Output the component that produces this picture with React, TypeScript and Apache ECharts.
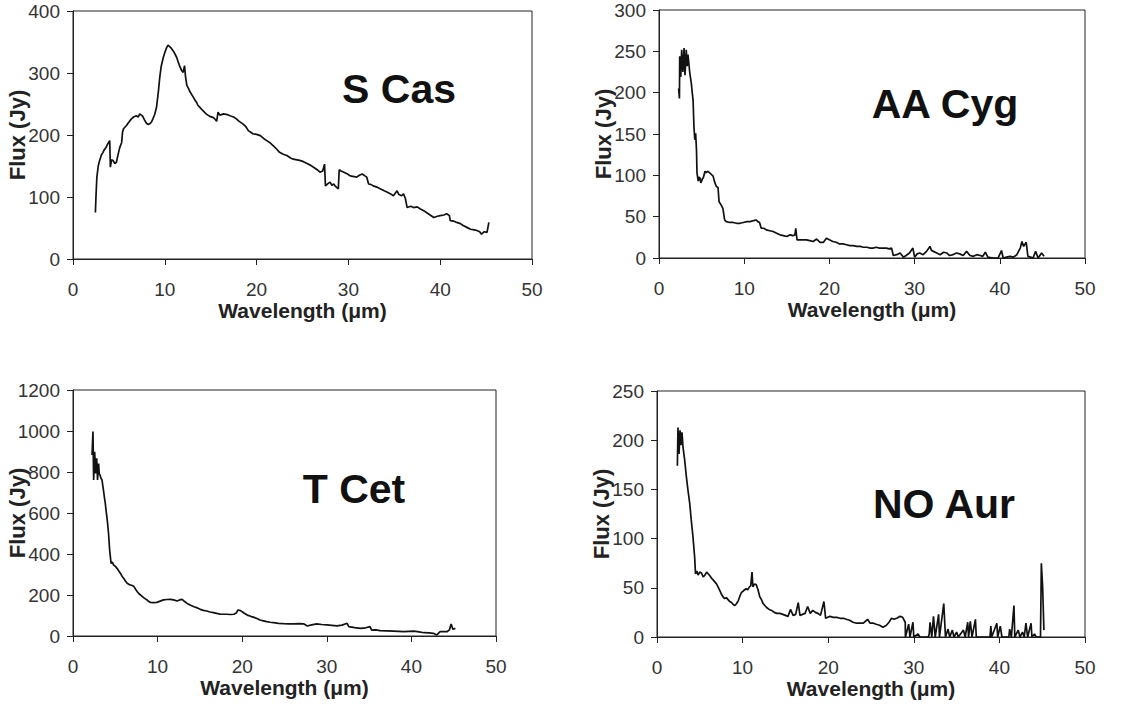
import React, { useEffect, useRef } from "react";
import * as echarts from "echarts";

const starNames = ["S Cas", "AA Cyg", "T Cet", "NO Aur"];
const yMax = [400, 300, 1200, 250];
const yStep = [100, 50, 200, 50];
const xTitle = "Wavelength (μm)";
const yTitle = "Flux (Jy)";

const sCas = [[2.44,75],[2.5,100],[2.6,132],[2.75,150],[2.9,159],[3.1,168],[3.27,172],[3.4,176],[3.6,180],[3.8,186],[4.0,191],[4.07,148],[4.2,160],[4.36,159],[4.55,154],[4.73,156],[4.9,168],[5.1,180],[5.3,188],[5.4,205],[5.5,210],[5.8,215],[6.1,221],[6.36,226],[6.6,229],[6.9,231],[7.1,229],[7.27,234],[7.45,232],[7.6,230],[7.8,224],[8.0,219],[8.2,217],[8.36,218],[8.55,221],[8.7,226],[8.9,233],[9.1,245],[9.3,270],[9.45,293],[9.6,310],[9.8,323],[10.0,333],[10.2,341],[10.35,345],[10.5,343],[10.7,340],[10.9,336],[11.1,331],[11.3,325],[11.45,318],[11.6,312],[11.8,305],[12.0,301],[12.15,312],[12.25,295],[12.4,280],[12.55,276],[12.7,271],[12.9,266],[13.1,261],[13.3,256],[13.45,253],[13.6,248],[13.8,245],[14.1,240],[14.5,234],[14.9,230],[15.3,228],[15.5,225],[15.65,222],[15.8,237],[16.0,232],[16.4,234],[16.8,233],[17.1,231],[17.5,229],[17.8,226],[18.1,222],[18.5,218],[18.8,214],[19.1,207],[19.4,204],[19.6,202],[20.0,201],[20.4,199],[20.8,194],[21.1,191],[21.5,187],[21.8,183],[22.2,177],[22.5,172],[22.9,169],[23.3,167],[23.7,163],[24.0,161],[24.4,160],[24.7,159],[25.1,157],[25.5,154],[25.9,151],[26.2,148],[26.6,144],[26.9,140],[27.2,142],[27.4,153],[27.5,118],[27.8,122],[28.0,124],[28.2,119],[28.4,121],[28.6,117],[28.9,113],[29.0,144],[29.2,142],[29.5,140],[29.9,137],[30.2,134],[30.6,133],[30.9,132],[31.2,135],[31.5,137],[31.8,134],[32.0,132],[32.2,121],[32.5,120],[32.7,118],[33.1,116],[33.5,113],[33.9,110],[34.2,108],[34.6,105],[34.9,102],[35.1,106],[35.3,110],[35.5,104],[35.8,102],[36.0,105],[36.2,98],[36.4,83],[36.8,85],[37.1,83],[37.5,84],[37.8,81],[38.2,78],[38.5,75],[38.9,71],[39.3,67],[39.7,69],[40.0,70],[40.4,71],[40.7,73],[41.0,70],[41.1,62],[41.5,61],[41.8,59],[42.2,57],[42.5,54],[42.9,51],[43.3,48],[43.7,47],[44.0,46],[44.3,44],[44.5,40],[44.8,44],[45.1,43],[45.3,59]];

const aaCyg = [[2.3,205],[2.4,193],[2.43,244],[2.55,219],[2.66,252],[2.8,225],[2.94,254],[3.05,221],[3.2,252],[3.3,232],[3.4,246],[3.5,236],[3.6,225],[3.7,218],[3.8,211],[3.9,200],[4.0,191],[4.1,159],[4.2,143],[4.3,151],[4.4,131],[4.46,103],[4.6,93],[4.7,98],[4.8,97],[4.9,91],[5.0,93],[5.1,96],[5.2,97],[5.3,101],[5.4,105],[5.55,103],[5.7,105],[5.95,103],[6.15,101],[6.35,99],[6.5,93],[6.7,87],[6.93,85],[7.05,68],[7.3,64],[7.5,60],[7.7,46],[7.9,44],[8.3,43],[8.7,43],[9.1,42],[9.5,42],[9.9,43],[10.3,44],[10.7,44],[11.0,45],[11.4,46],[11.6,44],[11.8,43],[12.0,36],[12.3,36],[12.6,34],[13.0,33],[13.4,32],[13.8,30],[14.2,28],[14.6,27],[15.0,26],[15.4,28],[15.7,27],[15.95,28],[16.05,36],[16.2,22],[16.7,22],[17.3,22],[17.7,21],[18.1,20],[18.5,23],[18.9,19],[19.3,19],[19.65,24],[20.0,22],[20.4,20],[20.8,19],[21.2,17],[21.6,17],[22.0,16],[22.4,15],[22.8,15],[23.2,14],[23.6,14],[24.0,13],[24.4,13],[24.8,12],[25.1,12],[25.5,13],[25.9,12],[26.3,12],[26.7,12],[27.0,11],[27.3,12],[27.5,3],[27.9,4],[28.3,6],[28.7,1],[29.0,3],[29.4,6],[29.8,12],[30.0,1],[30.3,5],[30.6,6],[31.0,4],[31.4,8],[31.8,14],[32.0,9],[32.2,8],[32.6,6],[33.0,4],[33.4,7],[33.8,6],[34.1,3],[34.5,4],[34.9,6],[35.3,5],[35.7,3],[36.1,8],[36.5,3],[36.9,2],[37.3,4],[37.7,3],[38.0,2],[38.3,7],[38.6,1],[39.2,0],[39.8,0],[40.2,9],[40.4,0],[40.8,1],[41.2,2],[41.6,1],[42.0,4],[42.4,12],[42.6,20],[42.8,14],[43.1,19],[43.3,2],[43.6,1],[43.9,0],[44.2,8],[44.5,0],[44.9,6],[45.2,2]];

const tCet = [[2.25,883],[2.36,997],[2.44,761],[2.56,899],[2.68,793],[2.8,867],[2.9,761],[3.03,841],[3.1,790],[3.2,785],[3.3,770],[3.43,761],[3.5,740],[3.6,712],[3.7,680],[3.82,647],[3.9,615],[4.0,582],[4.1,545],[4.2,501],[4.33,420],[4.5,354],[4.65,360],[4.8,346],[5.0,340],[5.2,330],[5.4,318],[5.6,306],[5.8,292],[6.0,281],[6.2,268],[6.4,257],[6.6,252],[6.8,249],[7.0,246],[7.2,241],[7.4,228],[7.6,216],[7.8,206],[8.0,200],[8.2,192],[8.35,187],[8.55,181],[8.75,176],[8.95,168],[9.14,164],[9.5,163],[9.93,164],[10.3,170],[10.7,176],[11.1,178],[11.5,179],[11.9,176],[12.3,171],[12.6,176],[12.9,179],[13.2,168],[13.5,159],[13.9,150],[14.3,143],[14.7,137],[15.05,130],[15.4,125],[15.8,122],[16.2,117],[16.6,114],[17.0,110],[17.4,107],[17.8,106],[18.2,106],[18.6,105],[19.0,106],[19.3,112],[19.5,127],[19.8,124],[20.2,112],[20.6,102],[21.0,96],[21.4,91],[21.8,84],[22.1,78],[22.5,74],[22.9,70],[23.3,67],[23.7,65],[24.3,62],[24.9,60],[25.5,59],[26.1,59],[26.7,60],[27.3,59],[27.7,49],[28.2,54],[28.8,59],[29.4,56],[30.0,54],[30.6,52],[31.2,49],[31.8,53],[32.4,62],[32.6,46],[33.3,41],[34.0,37],[34.6,40],[35.1,46],[35.3,29],[35.8,30],[36.3,26],[37.1,25],[37.9,24],[38.5,23],[39.1,21],[39.7,23],[40.3,24],[40.9,20],[41.5,16],[42.1,15],[42.6,13],[43.0,5],[43.4,21],[43.8,22],[44.2,21],[44.5,30],[44.7,59],[44.9,33],[45.2,37]];

const noAur = [[2.38,174],[2.45,213],[2.57,186],[2.69,210],[2.8,195],[2.92,208],[3.04,193],[3.23,180],[3.43,163],[3.62,149],[3.82,136],[4.0,119],[4.2,102],[4.4,81],[4.5,64],[4.65,67],[4.8,63],[5.0,66],[5.2,65],[5.4,61],[5.6,63],[5.8,66],[6.0,64],[6.2,62],[6.35,60],[6.55,58],[6.75,56],[6.95,54],[7.13,51],[7.3,48],[7.5,44],[7.7,41],[7.9,39],[8.1,40],[8.3,38],[8.5,36],[8.7,35],[8.9,33],[9.1,32],[9.3,34],[9.5,37],[9.7,42],[9.85,45],[10.1,47],[10.4,49],[10.6,48],[10.8,51],[10.95,52],[11.1,66],[11.2,51],[11.4,54],[11.6,53],[11.8,48],[12.0,41],[12.2,38],[12.4,34],[12.6,32],[12.8,30],[13.1,28],[13.4,27],[13.7,25],[14.0,24],[14.35,24],[14.7,23],[15.0,22],[15.3,21],[15.6,28],[15.9,22],[16.2,23],[16.5,35],[16.7,22],[17.0,23],[17.3,24],[17.6,31],[17.9,24],[18.2,27],[18.5,25],[18.8,24],[19.1,22],[19.5,36],[19.7,19],[20.2,21],[20.6,20],[21.0,20],[21.4,19],[21.8,19],[22.1,18],[22.5,17],[22.9,15],[23.3,14],[23.7,14],[24.1,14],[24.6,18],[24.9,14],[25.3,14],[25.6,13],[26.0,12],[26.4,10],[26.8,12],[27.1,15],[27.4,19],[27.7,18],[28.0,19],[28.4,21],[28.7,20],[29.0,15],[29.02,0],[29.4,13],[29.55,0],[29.9,15],[30.0,0],[30.5,3],[30.7,0],[31.7,0],[31.8,3],[31.9,15],[32.1,0],[32.3,21],[32.5,0],[32.9,23],[33.0,0],[33.5,34],[33.7,0],[34.0,8],[34.2,0],[34.5,7],[34.7,0],[35.0,5],[35.2,0],[35.8,7],[36.0,0],[36.3,15],[36.4,0],[36.6,16],[36.8,0],[37.2,18],[37.3,0],[38.9,0],[39.0,11],[39.1,0],[39.7,14],[39.8,0],[40.1,11],[40.3,0],[41.1,0],[41.2,8],[41.4,0],[41.7,32],[41.8,0],[42.2,7],[42.4,0],[42.7,5],[42.9,0],[43.1,14],[43.3,0],[43.7,14],[43.8,0],[44.1,3],[44.3,0],[44.8,0],[44.9,75],[45.05,51],[45.2,7]];

const spectra = [sCas, aaCyg, tCet, noAur];

const FONT = "'Liberation Sans', Arial, sans-serif";
const grids = [
  { left: 73, top: 11, width: 459, height: 248 },
  { left: 659, top: 10, width: 426, height: 248 },
  { left: 73, top: 390, width: 423, height: 246 },
  { left: 657, top: 391, width: 428, height: 246 },
];
const labelPos = [
  [399, 89],
  [945, 104],
  [354, 489],
  [944, 504],
];

export default function App() {
  const ref = useRef<HTMLDivElement>(null);
  useEffect(() => {
    document.body.style.margin = "0";
    const chart = echarts.init(ref.current!, null, { renderer: "svg" });
    const axisCommon = {
      axisLine: { show: true, lineStyle: { color: "#222", width: 1 } },
      axisTick: { show: true, inside: false, length: 6, lineStyle: { color: "#222" } },
      splitLine: { show: false },
      nameMoveOverlap: false,
      nameTextStyle: { fontFamily: FONT, fontWeight: "bold" as const, color: "#222" },
    };
    const option: any = {
      animation: false,
      backgroundColor: "#fff",
      grid: grids.map((g) => ({ ...g, show: true, borderColor: "#222", borderWidth: 1, backgroundColor: "transparent" })),
      xAxis: grids.map((_, i) => ({
        ...axisCommon,
        type: "value",
        gridIndex: i,
        min: 0,
        max: 50,
        interval: 10,
        name: xTitle,
        nameLocation: "middle",
        nameGap: 41,
        nameTextStyle: { ...axisCommon.nameTextStyle, fontSize: 21 },
        axisLabel: { fontFamily: FONT, fontSize: 19, color: "#333", margin: 21, formatter: (v: number) => String(v) },
      })),
      yAxis: grids.map((_, i) => ({
        ...axisCommon,
        type: "value",
        gridIndex: i,
        min: 0,
        max: yMax[i],
        interval: yStep[i],
        name: yTitle,
        nameLocation: "middle",
        nameRotate: 90,
        nameGap: 45,
        nameTextStyle: { ...axisCommon.nameTextStyle, fontSize: 22 },
        axisLabel: { fontFamily: FONT, fontSize: 19, color: "#333", margin: 13, formatter: (v: number) => String(v) },
      })),
      series: spectra.map((d, i) => ({
        type: "line",
        xAxisIndex: i,
        yAxisIndex: i,
        data: d,
        showSymbol: false,
        symbol: "none",
        lineStyle: { color: "#111", width: 1.7 },
      })),
      graphic: starNames.map((t, i) => ({
        type: "text",
        x: labelPos[i][0],
        y: labelPos[i][1],
        style: {
          text: t,
          font: `bold 41px ${FONT}`,
          fill: "#111",
          textAlign: "center",
          textVerticalAlign: "middle",
        },
      })),
    };
    chart.setOption(option);
    return () => chart.dispose();
  }, []);
  return <div ref={ref} style={{ width: 1138, height: 704 }} />;
}
